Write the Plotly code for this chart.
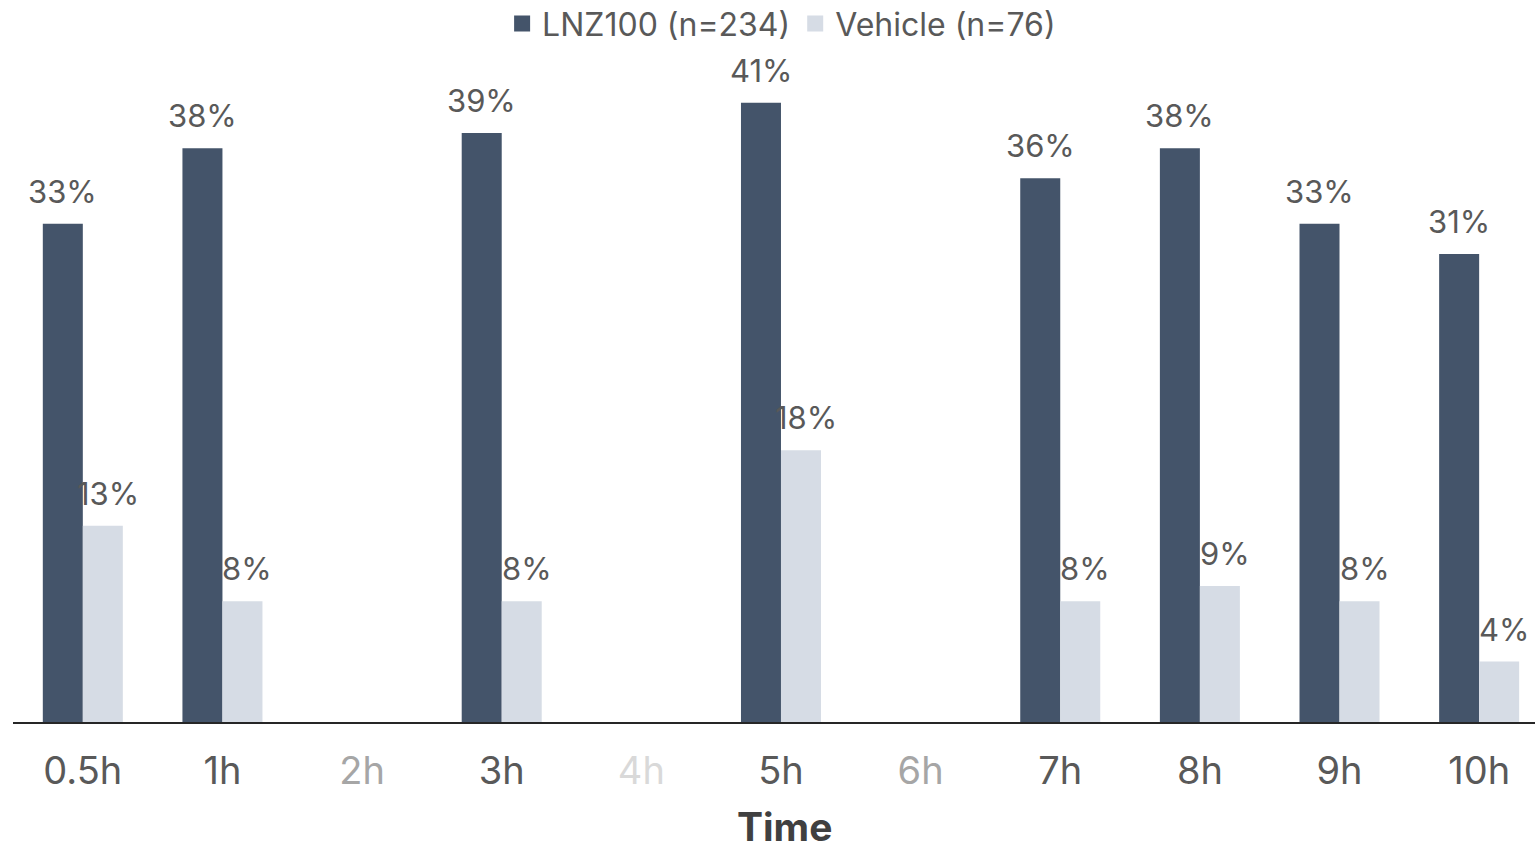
import plotly.graph_objects as go

# Time points and response rates (%)
time_points = ["0.5h", "1h", "2h", "3h", "4h", "5h", "6h", "7h", "8h", "9h", "10h"]
lnz100 = [33, 38, None, 39, None, 41, None, 36, 38, 33, 31]
vehicle = [13, 8, None, 8, None, 18, None, 8, 9, 8, 4]
tick_colors = ["#595959", "#595959", "#A6A6A6", "#595959", "#D9D9D9", "#595959",
               "#A6A6A6", "#595959", "#595959", "#595959", "#595959"]
series_names = ["LNZ100 (n=234)", "Vehicle (n=76)"]
series_colors = ["#44546A", "#D6DCE5"]
# horizontal label offset (px) from the category centre for each series
label_shift = [-20, 25]

FONT = "Inter"
TEXT = "#595959"

fig = go.Figure()
for name, vals, color in zip(series_names, [lnz100, vehicle], series_colors):
    fig.add_trace(go.Bar(
        x=time_points, y=vals, name=name, showlegend=False,
        marker=dict(color=color, line=dict(width=0)),
        cliponaxis=False,
    ))
    # legend entry with a larger square swatch
    fig.add_trace(go.Scatter(
        x=[None], y=[None], name=name, mode="markers",
        marker=dict(symbol="square", size=22, color=color),
    ))

# value labels above each bar
for vals, shift in zip([lnz100, vehicle], label_shift):
    for cat, v in zip(time_points, vals):
        if v is None:
            continue
        fig.add_annotation(
            x=cat, y=v, text=f"{v}%", showarrow=False,
            xanchor="center", yanchor="bottom", xshift=shift, yshift=12,
            font=dict(size=31, color=TEXT, family=FONT),
        )

# x-axis title
fig.add_annotation(
    x=0.507, y=-0.1955, xref="paper", yref="paper", text="<b>Time</b>",
    showarrow=False, xanchor="center", yanchor="bottom",
    font=dict(size=39, family=FONT, color="#404040"),
)

ticktext = [f"<span style='color:{c}'>{t}</span>" for t, c in zip(time_points, tick_colors)]

fig.update_layout(
    width=1535, height=854,
    margin=dict(l=13, r=0, t=55, b=132, autoexpand=False),
    plot_bgcolor="white", paper_bgcolor="white",
    barmode="group", bargap=0.427, bargroupgap=0,
    font=dict(family=FONT, color=TEXT),
    legend=dict(
        orientation="h", x=0.505, xanchor="center", y=1.088, yanchor="top",
        font=dict(size=32, color=TEXT, family=FONT),
        itemwidth=30, traceorder="normal",
        bgcolor="rgba(0,0,0,0)",
    ),
    xaxis=dict(
        type="category", categoryorder="array", categoryarray=time_points,
        range=[-0.5, 10.4], automargin=False,
        tickmode="array", tickvals=time_points, ticktext=ticktext,
        tickfont=dict(size=38, family=FONT, color=TEXT),
        ticks="", ticklabelstandoff=14,
        showline=True, linecolor="#262626", linewidth=2,
        showgrid=False, zeroline=False,
    ),
    yaxis=dict(
        range=[0, 44.17], visible=False, showgrid=False, zeroline=False,
        automargin=False,
    ),
)

fig.write_html("out.html")
